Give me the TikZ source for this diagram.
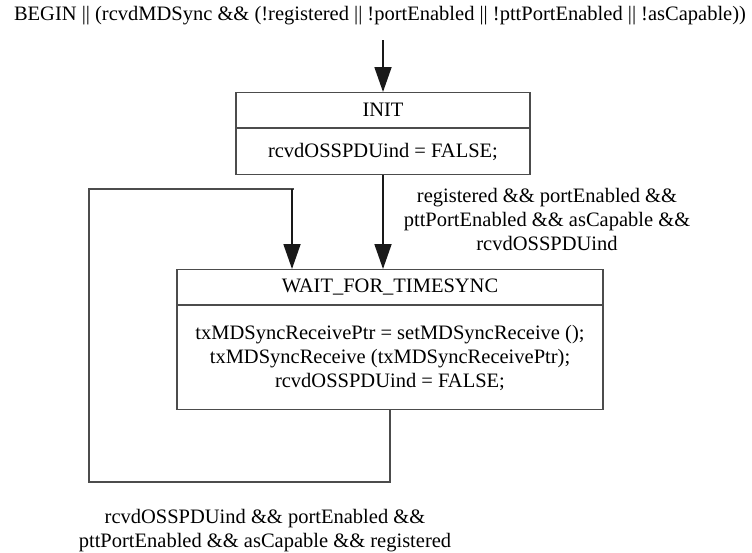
\documentclass[tikz,border=0pt]{standalone}
\usepackage{fontspec}
\setmainfont{Liberation Serif}
\usepackage{tikz}
\usetikzlibrary{arrows.meta, positioning}

\begin{document}
\begin{tikzpicture}[
  x=1pt, y=-1pt,
  every node/.style={font=\fontsize{20.5}{24}\selectfont, inner sep=0pt},
  header/.style={draw=black!70, line width=1.2pt, minimum height=35pt,
    anchor=north},
  body/.style={header, align=center},
  lbl/.style={align=center},
  wire/.style={draw=black!70, line width=1.2pt},
  arr/.style={draw=black!90, line width=1.8pt,
    -{Triangle[width=17pt, length=25pt]}}
]
  \useasboundingbox (0,0) rectangle (752,552);

  % Entry condition
  \node[lbl] (begin) at (380, 16)
    {BEGIN || (rcvdMDSync \&\& (!registered || !portEnabled || !pttPortEnabled || !asCapable))};
  \coordinate (entry) at (383, 40);

  % INIT state
  \node[header, minimum width=294pt] (init) at (383, 92) {INIT};
  \node[body, minimum width=294pt, minimum height=46pt, anchor=north]
    (initBody) at (init.south) {rcvdOSSPDUind = FALSE;};

  % WAIT_FOR_TIMESYNC state
  \node[header, minimum width=426pt] (wait) at (390, 269) {WAIT\_FOR\_TIMESYNC};
  \node[body, minimum width=426pt, minimum height=104pt, anchor=north]
    (waitBody) at (wait.south)
    {txMDSyncReceivePtr = setMDSyncReceive ();\\
     txMDSyncReceive (txMDSyncReceivePtr);\\
     rcvdOSSPDUind = FALSE;};

  % Transition labels
  \node[lbl] (goCond) at (547, 219)
    {registered \&\& portEnabled \&\&\\
     pttPortEnabled \&\& asCapable \&\&\\
     rcvdOSSPDUind};
  \node[lbl] (loopCond) at (265, 531)
    {rcvdOSSPDUind \&\& portEnabled \&\&\\
     pttPortEnabled \&\& asCapable \&\& registered};

  % Loop corners
  \coordinate (loopBot) at (89, 482);
  \coordinate (loopTop) at (294, 189);

  % Transitions
  \draw[arr] (entry) -- (init.north);
  \draw[arr] (initBody.south) -- (initBody.south |- wait.north);
  \draw[wire] (waitBody.south) |- (loopBot) |- (loopTop);
  \draw[arr] ([xshift=-2pt]loopTop) -- ([xshift=-2pt]loopTop |- wait.north);
\end{tikzpicture}
\end{document}
